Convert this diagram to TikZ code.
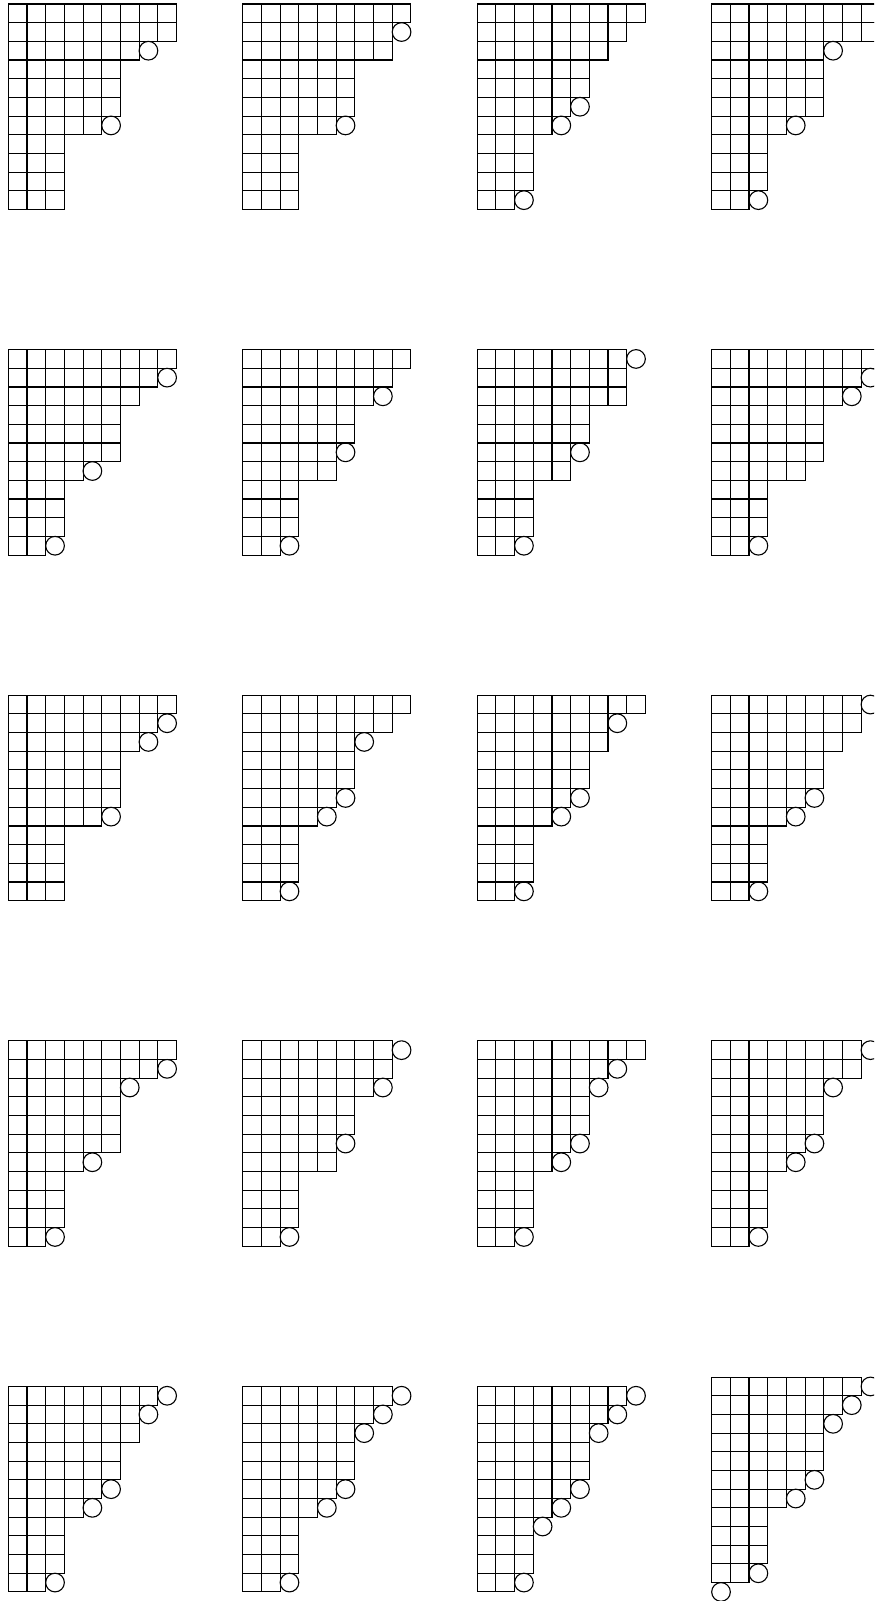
\documentclass[tikz,border=0pt]{standalone}
\begin{document}
\def\cellsz{18.68}
\tikzset{
  cellbox/.style={draw=black, line width=0.55pt},
  markcirc/.style={draw=black, line width=0.55pt}
}
\newcommand\youngdiag[4]{%
  \begin{scope}[shift={(#1,#2)}]
    \foreach \len [count=\r from 0] in {#3}{
      \foreach \c in {1,...,\len}{
        \draw[cellbox] ({(\c-1)*\cellsz},{\r*\cellsz}) rectangle ++(\cellsz,\cellsz);
      }
    }
    \foreach \rr/\cc in {#4}{
      \draw[markcirc] ({(\cc+0.5)*\cellsz},{(\rr+0.5)*\cellsz}) circle[radius=0.5*\cellsz];
    }
  \end{scope}}
\begin{tikzpicture}[x=0.5pt,y=-0.5pt]
\useasboundingbox (0,0) rectangle (874,1601);
\clip (0,0) rectangle (874,1601);
% row 1
\youngdiag{8.33}{4}{9,9,7,6,6,6,5,3,3,3,3}{2/7,6/5}
\youngdiag{242.78}{4}{9,8,8,6,6,6,5,3,3,3,3}{1/8,6/5}
\youngdiag{477.23}{4}{9,8,7,6,6,5,4,3,3,3,2}{5/5,6/4,10/2}
\youngdiag{711.68}{4}{9,9,6,6,6,6,4,3,3,3,2}{2/6,6/4,10/2}
% row 2
\youngdiag{8.33}{349.6}{9,8,7,6,6,6,4,3,3,3,2}{1/8,6/4,10/2}
\youngdiag{242.78}{349.6}{9,8,7,6,6,5,5,3,3,3,2}{2/7,5/5,10/2}
\youngdiag{477.23}{349.6}{8,8,8,6,6,5,5,3,3,3,2}{0/8,5/5,10/2}
\youngdiag{711.68}{349.6}{9,8,7,6,6,6,5,3,3,3,2}{1/8,2/7,10/2}
% row 3
\youngdiag{8.33}{695.2}{9,8,7,6,6,6,5,3,3,3,3}{1/8,2/7,6/5}
\youngdiag{242.78}{695.2}{9,8,6,6,6,5,4,3,3,3,2}{2/6,5/5,6/4,10/2}
\youngdiag{477.23}{695.2}{9,7,7,6,6,5,4,3,3,3,2}{1/7,5/5,6/4,10/2}
\youngdiag{711.68}{695.2}{8,8,7,6,6,5,4,3,3,3,2}{0/8,5/5,6/4,10/2}
% row 4
\youngdiag{8.33}{1040.8}{9,8,6,6,6,6,4,3,3,3,2}{1/8,2/6,6/4,10/2}
\youngdiag{242.78}{1040.8}{8,8,7,6,6,5,5,3,3,3,2}{0/8,2/7,5/5,10/2}
\youngdiag{477.23}{1040.8}{9,7,6,6,6,5,4,3,3,3,2}{1/7,2/6,5/5,6/4,10/2}
\youngdiag{711.68}{1040.8}{8,8,6,6,6,5,4,3,3,3,2}{0/8,2/6,5/5,6/4,10/2}
% row 5
\youngdiag{8.33}{1386.4}{8,7,7,6,6,5,4,3,3,3,2}{0/8,1/7,5/5,6/4,10/2}
\youngdiag{242.78}{1386.4}{8,7,6,6,6,5,4,3,3,3,2}{0/8,1/7,2/6,5/5,6/4,10/2}
\youngdiag{477.23}{1386.4}{8,7,6,6,6,5,4,3,3,3,2}{0/8,1/7,2/6,5/5,6/4,7/3,10/2}
\youngdiag{711.68}{1377.1}{8,7,6,6,6,5,4,3,3,3,2}{0/8,1/7,2/6,5/5,6/4,10/2,11/0}
\end{tikzpicture}
\end{document}
